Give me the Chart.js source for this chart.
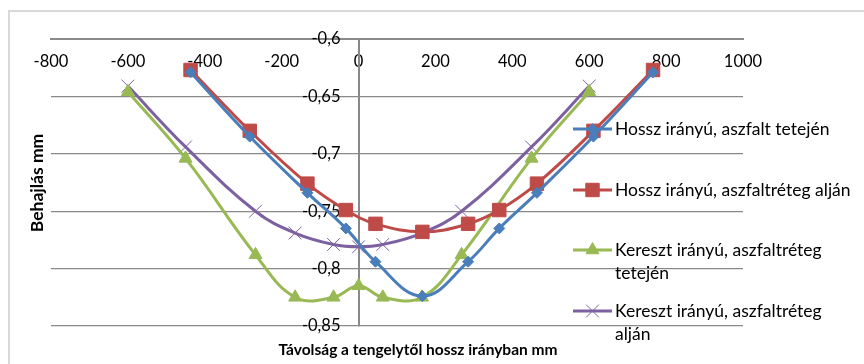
<!DOCTYPE html>
<html><head><meta charset="utf-8">
<script src="https://cdn.jsdelivr.net/npm/chart.js@4.4.1/dist/chart.umd.min.js"></script>
<style>html,body{margin:0;padding:0;background:#fff}#wrap{width:864px;height:364px;position:relative}</style>
</head><body><div id="wrap"><canvas id="c" width="864" height="364"></canvas></div>
<script>
// ---- data ----
const seriesNames = [
  ['Hossz irányú, aszfalt tetején'],
  ['Hossz irányú, aszfaltréteg alján'],
  ['Kereszt irányú, aszfaltréteg', 'tetején'],
  ['Kereszt irányú, aszfaltréteg', 'alján']
];
const xHossz = [-437, -283, -133, -33, 44, 166, 285, 366, 464, 611, 766];
const yHosszTeteje = [-0.629, -0.685, -0.734, -0.765, -0.794, -0.824, -0.794, -0.765, -0.734, -0.685, -0.629];
const yHosszAlja = [-0.627, -0.680, -0.726, -0.749, -0.761, -0.768, -0.761, -0.749, -0.726, -0.680, -0.627];
const xKereszt = [-600, -450, -268, -165, -65, 0, 63, 165, 268, 450, 600];
const yKeresztTeteje = [-0.646, -0.704, -0.788, -0.825, -0.825, -0.815, -0.825, -0.825, -0.788, -0.704, -0.646];
const yKeresztAlja = [-0.641, -0.694, -0.750, -0.769, -0.779, -0.781, -0.779, -0.769, -0.750, -0.694, -0.641];
const xTickValues = [-800, -600, -400, -200, 0, 200, 400, 600, 800, 1000];
const xTickLabels = ['-800', '-600', '-400', '-200', '0', '200', '400', '600', '800', '1000'];
const yTickValues = [-0.85, -0.8, -0.75, -0.7, -0.65, -0.6];
const yTickLabels = ['-0,85', '-0,8', '-0,75', '-0,7', '-0,65', '-0,6'];
const xTitle = 'Távolság a tengelytől hossz irányban mm';
const yTitle = 'Behajlás mm';

const toPts = (xs, ys) => xs.map((x, i) => ({x: x, y: ys[i]}));

Chart.defaults.font.family = 'Lato, "Open Sans", sans-serif';
Chart.defaults.font.size = 16.5;
Chart.defaults.color = '#000';

const GRID = '#898989';

const frame = {
  id: 'frame',
  beforeDraw(chart) {
    const ctx = chart.ctx;
    ctx.save();
    ctx.strokeStyle = '#d9d9d9';
    ctx.lineWidth = 2;
    ctx.beginPath();
    ctx.moveTo(9, 370); ctx.lineTo(9, 11); ctx.lineTo(870, 11);
    ctx.stroke();
    ctx.restore();
  }
};

const extras = {
  id: 'extras',
  afterDraw(chart) {
    const ctx = chart.ctx;
    ctx.save();
    // axis titles
    ctx.fillStyle = '#000';
    ctx.textAlign = 'center';
    ctx.textBaseline = 'middle';
    ctx.font = 'bold 15.5px Lato, "Open Sans", sans-serif';
    ctx.fillText(xTitle, 418, 350);
    ctx.font = 'bold 17.5px Lato, "Open Sans", sans-serif';
    ctx.translate(37, 183);
    ctx.rotate(-Math.PI / 2);
    ctx.fillText(yTitle, 0, 0);
    ctx.restore();
    // legend
    const rows = [129, 190, 250, 311];
    const lh = 23;
    ctx.save();
    chart.data.datasets.forEach((ds, i) => {
      const y = rows[i];
      ctx.strokeStyle = ds.borderColor;
      ctx.lineWidth = 3;
      ctx.beginPath();
      ctx.moveTo(573, y); ctx.lineTo(612, y);
      ctx.stroke();
      ctx.fillStyle = ds.pointBackgroundColor;
      ctx.strokeStyle = ds.pointBorderColor;
      ctx.lineWidth = ds.pointBorderWidth;
      Chart.helpers.drawPoint(ctx, {pointStyle: ds.pointStyle, radius: ds.pointRadius, rotation: 0, borderWidth: ds.pointBorderWidth}, 592.5, y);
      ctx.fillStyle = '#000';
      ctx.font = '17.5px Lato, "Open Sans", sans-serif';
      ctx.textAlign = 'left';
      ctx.textBaseline = 'middle';
      seriesNames[i].forEach((t, k) => ctx.fillText(t, 615, y + k * lh));
    });
    ctx.restore();
  }
};

function ds(label, pts, color, style, radius, bw, fill) {
  return {
    label: label, data: pts, showLine: true, borderColor: color, borderWidth: 3,
    tension: 0.4, pointStyle: style, pointRadius: radius, pointHoverRadius: radius,
    pointBackgroundColor: fill, pointBorderColor: color, pointBorderWidth: bw
  };
}

new Chart(document.getElementById('c'), {
  type: 'scatter',
  data: {
    datasets: [
      ds(seriesNames[0].join(' '), toPts(xHossz, yHosszTeteje), '#4A7EBB', 'rectRot', 5.5, 1, '#4A7EBB'),
      ds(seriesNames[1].join(' '), toPts(xHossz, yHosszAlja), '#BE4B48', 'rect', 9.5, 1, '#BE4B48'),
      ds(seriesNames[2].join(' '), toPts(xKereszt, yKeresztTeteje), '#98B954', 'triangle', 7.5, 1, '#98B954'),
      ds(seriesNames[3].join(' '), toPts(xKereszt, yKeresztAlja), '#7D60A0', 'crossRot', 9, 1, '#7D60A0')
    ]
  },
  options: {
    responsive: false,
    animation: false,
    events: [],
    layout: {padding: {left: 51, top: 39, right: 121, bottom: 38}},
    plugins: {legend: {display: false}, tooltip: {enabled: false}, title: {display: false}},
    scales: {
      x: {
        type: 'linear', min: -800, max: 1000,
        position: {y: -0.6},
        afterBuildTicks: s => { s.ticks = xTickValues.map(v => ({value: v})); },
        ticks: {padding: 13, maxRotation: 0, autoSkip: false, callback: (v, i) => xTickLabels[i]},
        grid: {display: false, drawTicks: false},
        border: {display: true, color: GRID, width: 2}
      },
      y: {
        type: 'linear', min: -0.85, max: -0.6,
        position: {x: 0},
        afterBuildTicks: s => { s.ticks = yTickValues.map(v => ({value: v})); },
        ticks: {display: false},
        grid: {display: true, color: GRID, lineWidth: 1.3, drawTicks: false},
        border: {display: true, color: GRID, width: 2}
      },
      yLabels: {
        type: 'linear', axis: 'y', min: -0.85, max: -0.6,
        position: {x: -47},
        afterBuildTicks: s => { s.ticks = yTickValues.map(v => ({value: v})); },
        ticks: {padding: 0, autoSkip: false, callback: (v, i) => yTickLabels[i]},
        grid: {display: false, drawTicks: false},
        border: {display: false}
      }
    }
  },
  plugins: [frame, extras]
});
</script>
</body></html>
